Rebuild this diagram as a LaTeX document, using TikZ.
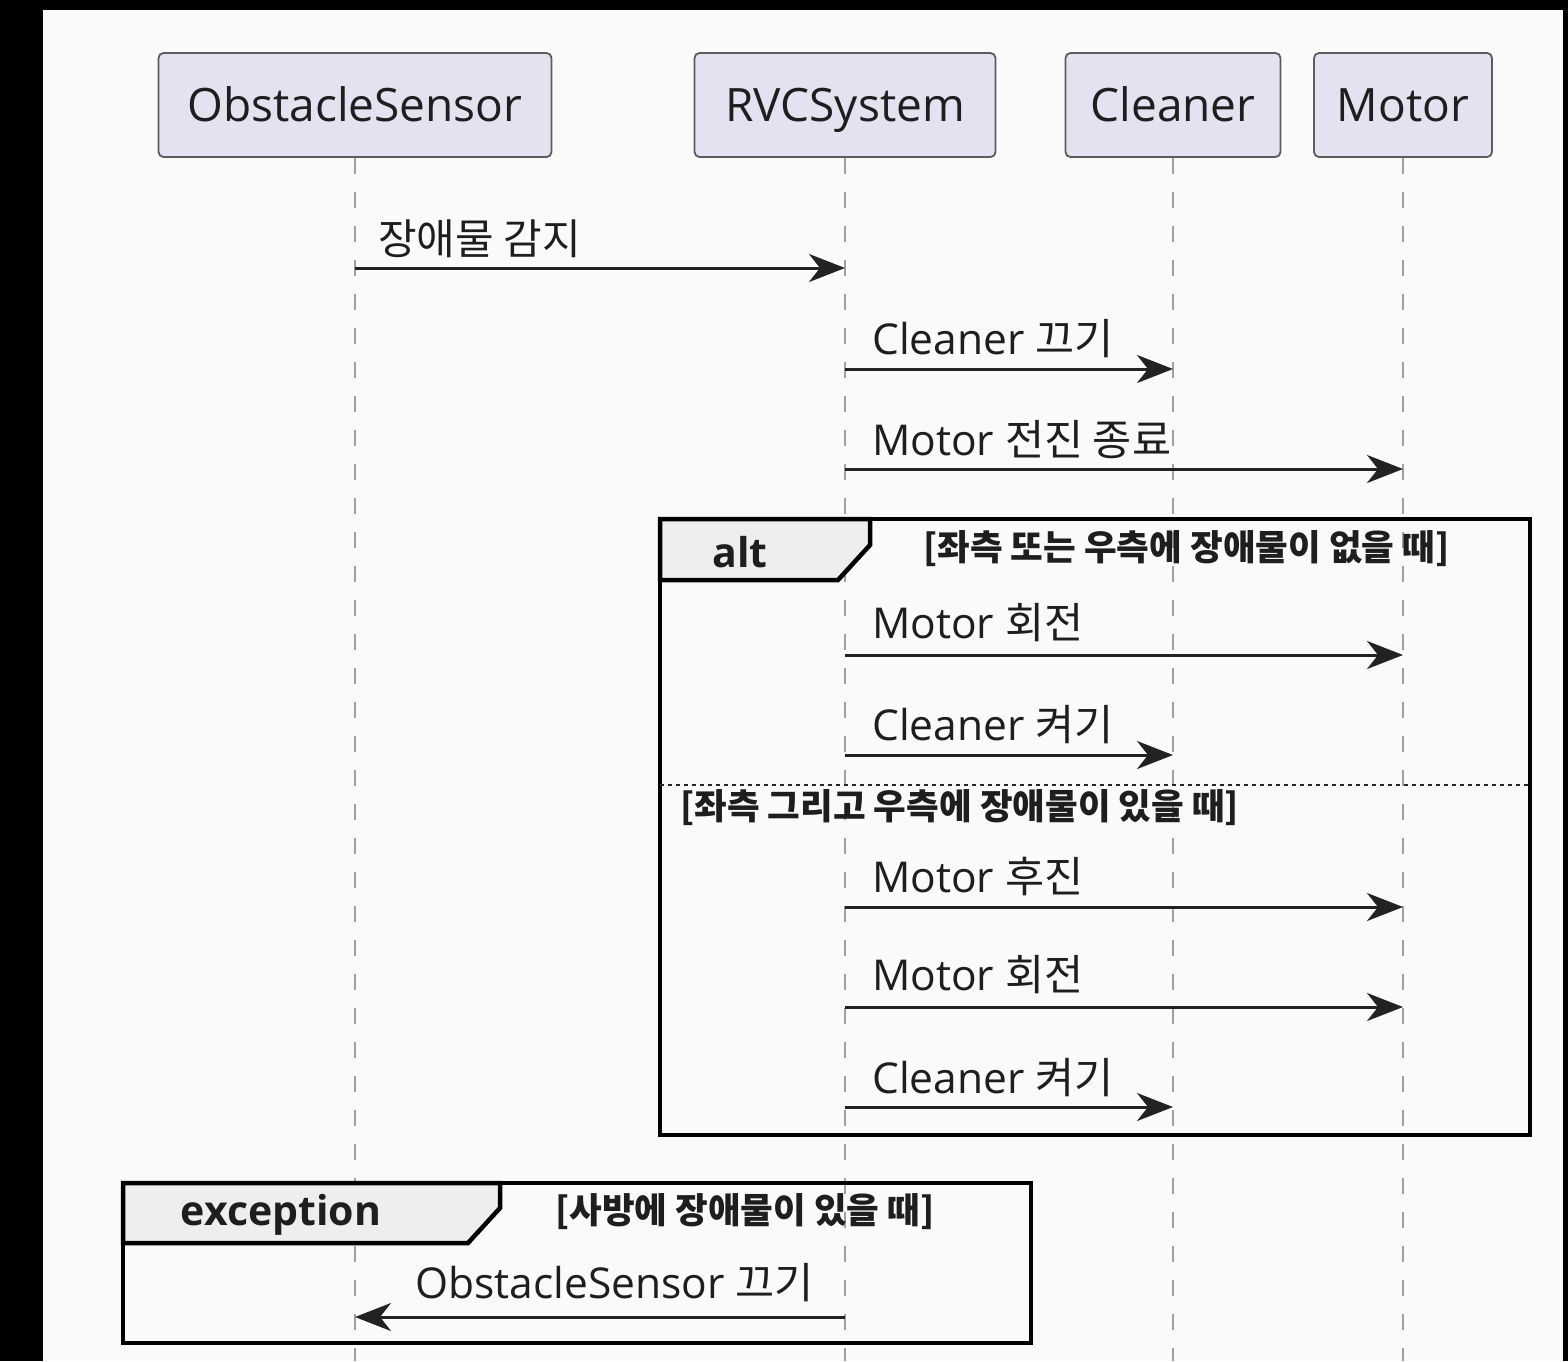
\documentclass[tikz,border=0pt]{standalone}
\usepackage{fontspec}
\setmainfont{Open Sans}
\newfontfamily\kr{Noto Sans CJK KR}
\usetikzlibrary{arrows.meta}

\definecolor{pagebg}{HTML}{FAFAFA}
\definecolor{partfill}{HTML}{E2E2F0}
\definecolor{partdraw}{HTML}{5C5C5C}
\definecolor{lifecol}{HTML}{A0A0A0}
\definecolor{msgcol}{HTML}{222222}
\definecolor{tabcol}{HTML}{EEEEEE}
\definecolor{txt}{HTML}{1E1E1E}

\tikzset{
  participant/.style={draw=partdraw, line width=1.8pt, fill=partfill, rounded corners=5pt,
    minimum height=104pt, inner sep=0pt, text=txt, text height=33pt, text depth=0pt,
    font=\fontsize{46}{50}\selectfont},
  lifeline/.style={draw=lifecol, line width=2.6pt, dash pattern=on 16pt off 18pt},
  message/.style={draw=msgcol, line width=3pt,
    -{Stealth[length=36pt, width=28pt, inset=11pt]}},
  msglabel/.style={anchor=base west, inner sep=0pt, text=txt, font=\fontsize{42.5}{46}\selectfont},
  krmsg/.style={font=\kr\fontsize{42}{46}\selectfont},
  framebox/.style={draw=black, line width=4.5pt},
  tabshape/.style={fill=tabcol, draw=black, line width=4.5pt, line join=miter},
  framelabel/.style={inner sep=0pt, text=txt, font=\fontsize{41}{44}\selectfont\bfseries},
  guard/.style={anchor=west, inner sep=0pt, text=txt, font=\kr\fontsize{35.5}{38}\selectfont\bfseries},
  separator/.style={draw=black!85, line width=2.4pt, dash pattern=on 4pt off 4pt}
}

\begin{document}
\begin{tikzpicture}[x=1pt, y=-1pt]
\useasboundingbox (0,0) rectangle (1568,1361);
% page and dark surround
\fill[black] (0,0) rectangle (1568,1361);
\fill[pagebg] (43,10) rectangle (1563,1361);

% participants
\node[participant, minimum width=393pt] (os)  at (355,105) {ObstacleSensor};
\node[participant, minimum width=301pt] (rvc) at (845,105) {RVCSystem};
\node[participant, minimum width=215pt] (cl)  at (1173,105) {Cleaner};
\node[participant, minimum width=178pt] (mo)  at (1403,105) {Motor};

\coordinate (bottom) at (0,1361);
\foreach \p in {os,rvc,cl,mo}
  \draw[lifeline] (\p.south) -- (\p |- bottom);

% rows of the messages
\coordinate (r1) at (0,268);
\coordinate (r2) at (0,369);
\coordinate (r3) at (0,469);
\coordinate (r4) at (0,655);
\coordinate (r5) at (0,755);
\coordinate (r6) at (0,907);
\coordinate (r7) at (0,1007);
\coordinate (r8) at (0,1107);
\coordinate (r9) at (0,1317);

% alt fragment
\draw[tabshape] (660,519) -- (870,519) -- (870,545) -- (838,580) -- (660,580) -- cycle;
\draw[framebox] (660,519) rectangle (1530,1135);
\node[framelabel] (altlbl) at (740,552) {alt};
\node[guard] (g1) at (923,549) {[좌측 또는 우측에 장애물이 없을 때]};
\draw[separator] (660,785) -- (1530,785);
\node[guard] (g2) at (680,808) {[좌측 그리고 우측에 장애물이 있을 때]};

% exception fragment
\draw[tabshape] (123,1183) -- (500,1183) -- (500,1208) -- (468,1243) -- (123,1243) -- cycle;
\draw[framebox] (123,1183) rectangle (1031,1343);
\node[framelabel] (exlbl) at (281,1215) {exception};
\node[guard] (g3) at (555,1212) {[사방에 장애물이 있을 때]};

% messages
\draw[message] (os |- r1) -- (rvc |- r1);
\node[msglabel, krmsg] (l1) at (378,254) {장애물 감지};
\draw[message] (rvc |- r2) -- (cl |- r2);
\node[msglabel] (l2) at (872,354) {Cleaner {\kr 끄기}};
\draw[message] (rvc |- r3) -- (mo |- r3);
\node[msglabel] (l3) at (872,455) {Motor {\kr 전진 종료}};
\draw[message] (rvc |- r4) -- (mo |- r4);
\node[msglabel] (l4) at (872,638) {Motor {\kr 회전}};
\draw[message] (rvc |- r5) -- (cl |- r5);
\node[msglabel] (l5) at (872,740) {Cleaner {\kr 켜기}};
\draw[message] (rvc |- r6) -- (mo |- r6);
\node[msglabel] (l6) at (872,892) {Motor {\kr 후진}};
\draw[message] (rvc |- r7) -- (mo |- r7);
\node[msglabel] (l7) at (872,990) {Motor {\kr 회전}};
\draw[message] (rvc |- r8) -- (cl |- r8);
\node[msglabel] (l8) at (872,1093) {Cleaner {\kr 켜기}};
\draw[message] (rvc |- r9) -- (os |- r9);
\node[msglabel] (l9) at (415,1298) {ObstacleSensor {\kr 끄기}};
\end{tikzpicture}
\end{document}
